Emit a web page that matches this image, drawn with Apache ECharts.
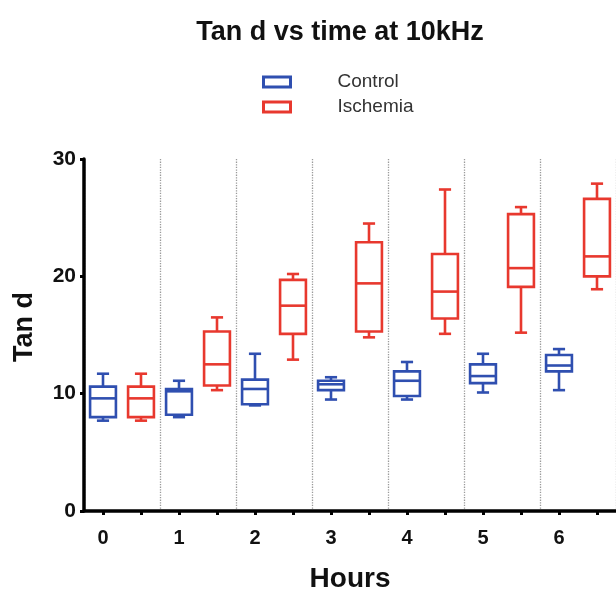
<!DOCTYPE html>
<html>
<head>
<meta charset="utf-8">
<script src="https://cdn.jsdelivr.net/npm/echarts@6/dist/echarts.min.js"></script>
<style>
html,body{margin:0;padding:0;background:#fff;}
#chart{width:616px;height:590px;}
</style>
</head>
<body>
<div id="chart"></div>
<script>
// Hours (tick labels)
var hours = ['0', '1', '2', '3', '4', '5', '6'];
// [min, Q1, median, Q3, max] per hour
var control = [
  [7.7, 8.0, 9.6, 10.6, 11.7],
  [8.0, 8.2, 10.2, 10.4, 11.1],
  [9.0, 9.1, 10.4, 11.2, 13.4],
  [9.5, 10.3, 10.8, 11.1, 11.4],
  [9.5, 9.8, 11.1, 11.9, 12.7],
  [10.1, 10.9, 11.5, 12.5, 13.4],
  [10.3, 11.9, 12.4, 13.3, 13.8]
];
var ischemia = [
  [7.7, 8.0, 9.6, 10.6, 11.7],
  [10.3, 10.7, 12.5, 15.3, 16.5],
  [12.9, 15.1, 17.5, 19.7, 20.2],
  [14.8, 15.3, 19.4, 22.9, 24.5],
  [15.1, 16.4, 18.7, 21.9, 27.4],
  [15.2, 19.1, 20.7, 25.3, 25.9],
  [18.9, 20.0, 21.7, 26.6, 27.9]
];
var seriesNames = ['Control', 'Ischemia'];
var colors = ['#2f4fb0', '#e8382e'];

// two slots per hour: control then ischemia
var categories = [];
hours.forEach(function (h) { categories.push(h); categories.push(h + '\u200b'); });

function toData(arr, slot) {
  return arr.map(function (v, i) { return [2 * i + slot].concat(v); });
}

function renderBox(color) {
  return function (params, api) {
    var x = api.value(0);
    var pMin = api.coord([x, api.value(1)]);
    var pQ1 = api.coord([x, api.value(2)]);
    var pMed = api.coord([x, api.value(3)]);
    var pQ3 = api.coord([x, api.value(4)]);
    var pMax = api.coord([x, api.value(5)]);
    var band = api.size([1, 0])[0];
    var hw = band * 0.34;
    var cw = band * 0.16;
    var cx = pMin[0];
    var st = { stroke: color, fill: null, lineWidth: 2.6 };
    function line(x1, y1, x2, y2) {
      return { type: 'line', shape: { x1: x1, y1: y1, x2: x2, y2: y2 }, style: st };
    }
    return {
      type: 'group',
      children: [
        { type: 'rect', shape: { x: cx - hw, y: pQ3[1], width: 2 * hw, height: pQ1[1] - pQ3[1] }, style: st },
        line(cx - hw, pMed[1], cx + hw, pMed[1]),
        line(cx, pQ3[1], cx, pMax[1]),
        line(cx, pQ1[1], cx, pMin[1]),
        line(cx - cw, pMax[1], cx + cw, pMax[1]),
        line(cx - cw, pMin[1], cx + cw, pMin[1])
      ]
    };
  };
}

var chart = echarts.init(document.getElementById('chart'), null, { renderer: 'canvas' });
var fontFam = '"Liberation Sans", Arial, Helvetica, sans-serif';
chart.setOption({
  backgroundColor: '#ffffff',
  animation: false,
  title: {
    text: 'Tan d vs time at 10kHz',
    left: 340,
    textAlign: 'center',
    top: 19,
    padding: 0,
    textStyle: { fontFamily: fontFam, fontWeight: 'bold', fontSize: 27, color: '#111' }
  },
  legend: {
    orient: 'vertical',
    left: 262,
    top: 72,
    padding: 0,
    itemWidth: 27,
    itemHeight: 10,
    itemGap: 5,
    selectedMode: false,
    textStyle: { fontFamily: fontFam, fontSize: 19, lineHeight: 20, color: '#333', padding: [0, 0, 0, 42] },
    data: seriesNames.map(function (n, i) {
      return { name: n, icon: 'rect', itemStyle: { color: '#ffffff', borderColor: colors[i], borderWidth: 3 } };
    })
  },
  grid: { left: 84, right: 0, top: 159, bottom: 79, containLabel: false, outerBoundsMode: 'none' },
  xAxis: [{
    type: 'category',
    data: categories,
    boundaryGap: true,
    name: 'Hours',
    nameLocation: 'middle',
    nameGap: 54,
    nameTextStyle: { fontFamily: fontFam, fontWeight: 'bold', fontSize: 28, color: '#111' },
    axisLine: { lineStyle: { color: '#000', width: 3.5 } },
    axisTick: { show: true, alignWithLabel: true, interval: 0, length: 4, lineStyle: { color: '#000', width: 3 } },
    axisLabel: {
      interval: 0,
      margin: 17,
      formatter: function (v, i) { return i % 2 === 0 ? v : ''; },
      fontFamily: fontFam, fontWeight: 'bold', fontSize: 20, color: '#111'
    },
    splitLine: { show: false },
    z: 5
  }, {
    type: 'category',
    data: hours,
    boundaryGap: true,
    position: 'bottom',
    axisLine: { show: false },
    axisTick: { show: false },
    axisLabel: { show: false },
    splitLine: { show: true, interval: 0, lineStyle: { color: '#9a9a9a', type: 'dotted', width: 1.3 } }
  }],
  yAxis: {
    type: 'value',
    min: 0, max: 30, interval: 10,
    name: 'Tan d',
    nameLocation: 'middle',
    nameGap: 46,
    nameTextStyle: { fontFamily: fontFam, fontWeight: 'bold', fontSize: 27, color: '#111', padding: [0, 0, 0, 16] },
    axisLine: { show: true, lineStyle: { color: '#000', width: 3.5 } },
    axisTick: { show: true, length: 4, lineStyle: { color: '#000', width: 3 } },
    axisLabel: { margin: 8, fontFamily: fontFam, fontWeight: 'bold', fontSize: 21, color: '#111' },
    splitLine: { show: false },
    z: 5
  },
  series: [
    { name: seriesNames[0], type: 'custom', renderItem: renderBox(colors[0]), itemStyle: { color: colors[0] },
      xAxisIndex: 0, encode: { x: 0, y: [1, 2, 3, 4, 5] }, data: toData(control, 0), z: 3 },
    { name: seriesNames[1], type: 'custom', renderItem: renderBox(colors[1]), itemStyle: { color: colors[1] },
      xAxisIndex: 0, encode: { x: 0, y: [1, 2, 3, 4, 5] }, data: toData(ischemia, 1), z: 3 }
  ]
});
</script>
</body>
</html>
